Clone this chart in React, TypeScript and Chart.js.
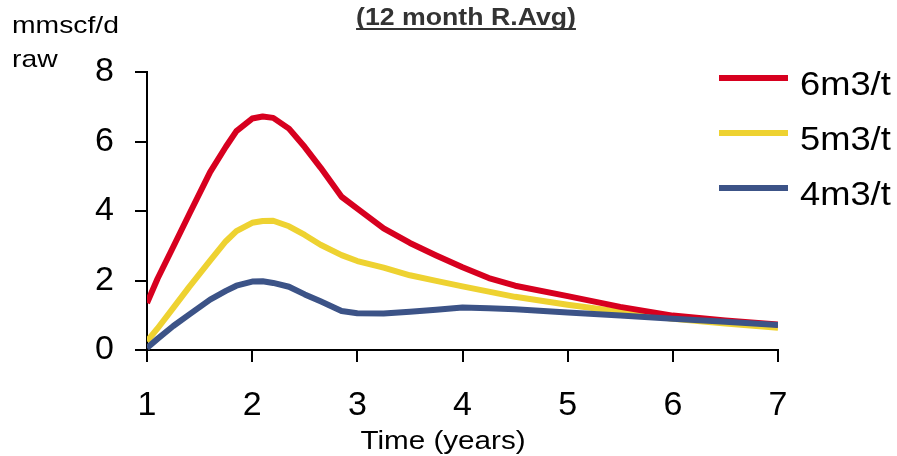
import { useEffect, useRef } from 'react';
import { Chart, registerables } from 'chart.js';

Chart.register(...registerables);

// ---- data ----
const timeYears = [1.0, 1.1, 1.25, 1.4, 1.6, 1.75, 1.85, 2.0, 2.1, 2.2, 2.35, 2.5, 2.65, 2.85, 3.0, 3.25, 3.5, 3.75, 4.0, 4.25, 4.5, 5.0, 5.5, 6.0, 6.5, 7.0];
const gas6 = [1.35, 2.05, 2.97, 3.9, 5.12, 5.85, 6.3, 6.66, 6.72, 6.68, 6.37, 5.84, 5.25, 4.41, 4.07, 3.5, 3.08, 2.72, 2.38, 2.07, 1.85, 1.55, 1.24, 0.99, 0.85, 0.73];
const gas5 = [0.25, 0.62, 1.21, 1.81, 2.57, 3.13, 3.42, 3.66, 3.71, 3.72, 3.56, 3.31, 3.03, 2.73, 2.56, 2.37, 2.15, 1.99, 1.83, 1.68, 1.53, 1.3, 1.1, 0.9, 0.76, 0.64];
const gas4 = [0.06, 0.32, 0.69, 1.02, 1.45, 1.7, 1.85, 1.97, 1.98, 1.93, 1.82, 1.6, 1.4, 1.12, 1.06, 1.05, 1.1, 1.16, 1.22, 1.2, 1.17, 1.08, 0.99, 0.9, 0.81, 0.72];
const seriesLabels = ['6m3/t', '5m3/t', '4m3/t'];
const seriesColors = ['#D7001F', '#EED231', '#3C5387'];
const xRange = [1, 7];
const yRange = [0, 8];
const titleText = '(12 month R.Avg)';
const unitLines = ['mmscf/d', 'raw'];
const xAxisTitle = 'Time (years)';

const FONT = '"Liberation Sans", Arial, Helvetica, sans-serif';

function wideText(ctx: CanvasRenderingContext2D, text: string, x: number, y: number, sx: number) {
  ctx.save();
  ctx.translate(x, y);
  ctx.scale(sx, 1);
  ctx.fillText(text, 0, 0);
  ctx.restore();
}

const textPlugin = {
  id: 'customTexts',
  afterDraw(chart: any) {
    const ctx = chart.ctx as CanvasRenderingContext2D;
    ctx.save();
    ctx.textBaseline = 'alphabetic';
    // title
    const tsx = 1.16;
    ctx.font = `bold 23px ${FONT}`;
    ctx.fillStyle = '#333333';
    ctx.textAlign = 'center';
    wideText(ctx, titleText, 466, 25, tsx);
    const w = ctx.measureText(titleText).width * tsx;
    ctx.fillRect(466 - w / 2, 28, w, 2);

    // unit label
    ctx.fillStyle = '#000000';
    ctx.textAlign = 'left';
    ctx.font = `24px ${FONT}`;
    wideText(ctx, unitLines[0], 12, 33, 1.18);
    wideText(ctx, unitLines[1], 12, 67, 1.18);

    // x axis title
    ctx.textAlign = 'center';
    ctx.font = `26px ${FONT}`;
    wideText(ctx, xAxisTitle, 443, 449, 1.14);

    // legend
    const rowsY = [78, 133, 188];
    const baseY = [95, 150, 205];
    ctx.textAlign = 'left';
    ctx.font = `33px ${FONT}`;
    chart.data.datasets.forEach((ds: any, i: number) => {
      ctx.strokeStyle = ds.borderColor;
      ctx.lineWidth = 6;
      ctx.beginPath();
      ctx.moveTo(719, rowsY[i]);
      ctx.lineTo(788, rowsY[i]);
      ctx.stroke();
      ctx.fillStyle = '#000000';
      wideText(ctx, ds.label, 800, baseY[i], 1.1);
    });
    ctx.restore();
  },
};

export default function App() {
  const ref = useRef<HTMLCanvasElement | null>(null);

  useEffect(() => {
    document.body.style.margin = '0';
    if (!ref.current) return;
    const all = [gas6, gas5, gas4];
    const orders = [1, 2, 0];
    const chart = new Chart(ref.current, {
      type: 'line',
      data: {
        datasets: all.map((vals, i) => ({
          label: seriesLabels[i],
          data: timeYears.map((t, j) => ({ x: t, y: vals[j] })),
          borderColor: seriesColors[i],
          backgroundColor: seriesColors[i],
          borderWidth: 6,
          pointRadius: 0,
          tension: 0,
          fill: false,
          order: orders[i],
          borderJoinStyle: 'round' as const,
        })),
      },
      options: {
        responsive: false,
        maintainAspectRatio: false,
        animation: false,
        layout: { padding: { top: 72, right: 119, left: 0, bottom: 0 } },
        plugins: {
          legend: { display: false },
          tooltip: { enabled: false },
          title: { display: false },
        },
        scales: {
          x: {
            type: 'linear',
            min: xRange[0],
            max: xRange[1],
            afterFit: (s: any) => { s.height = 106; },
            ticks: {
              stepSize: 1,
              color: '#000000',
              padding: 23,
              font: { family: FONT, size: 34 },
            },
            grid: { drawOnChartArea: false, tickLength: 12, color: '#000000', lineWidth: 2 },
            border: { color: '#000000', width: 2 },
          },
          y: {
            type: 'linear',
            min: yRange[0],
            max: yRange[1],
            afterFit: (s: any) => { s.width = 147; },
            ticks: {
              stepSize: 2,
              color: '#000000',
              padding: 21,
              font: { family: FONT, size: 34 },
            },
            grid: { drawOnChartArea: false, tickLength: 12, color: '#000000', lineWidth: 2 },
            border: { color: '#000000', width: 2 },
          },
        },
      },
      plugins: [textPlugin],
    });
    return () => chart.destroy();
  }, []);

  return (
    <div style={{ position: 'absolute', left: 0, top: 0, width: 897, height: 456, background: '#ffffff' }}>
      <canvas ref={ref} width={897} height={456} style={{ width: 897, height: 456 }} />
    </div>
  );
}
